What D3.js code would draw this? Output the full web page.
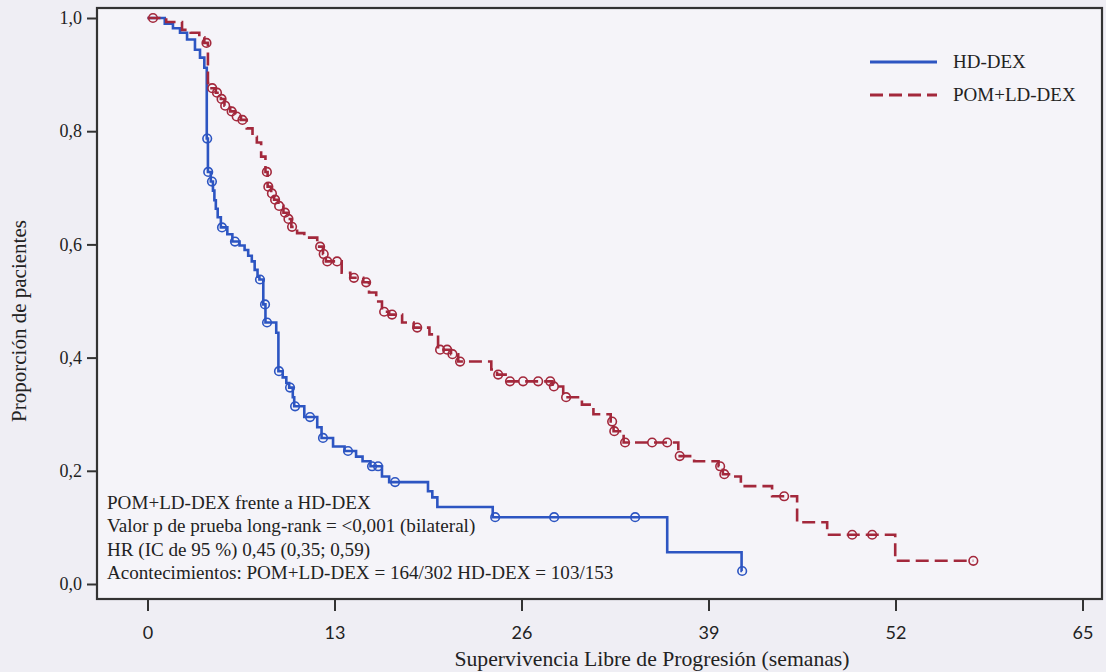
<!DOCTYPE html>
<html><head><meta charset="utf-8">
<script src="https://cdn.jsdelivr.net/npm/d3@7"></script>
<style>
html,body{margin:0;padding:0;background:#efeef4;}
svg{display:block;}
</style></head>
<body>
<svg id="chart" width="1106" height="672"></svg>
<script>
// ---------- DATA ----------
const seriesNames = ["HD-DEX", "POM+LD-DEX"];
const xTickValues = [0, 13, 26, 39, 52, 65];
const yTickValues = [0, 0.2, 0.4, 0.6, 0.8, 1.0];

// HD-DEX: step times (weeks) and survival after each step
const hdTimes = [0,1.2,1.77,2.26,2.75,3.3,3.65,3.95,4.12,4.2,4.4,4.55,4.65,4.75,4.88,5.1,5.55,5.9,6.4,6.75,7.0,7.25,7.45,7.65,7.78,8.05,8.2,8.95,9.1,9.4,9.65,9.85,10.1,10.2,10.9,11.8,12.1,12.9,13.7,14.5,14.95,15.5,16.3,16.8,19.5,19.8,20.15,24.0,36.13,41.3];
const hdSurv  = [1.0,0.99,0.982,0.974,0.962,0.944,0.93,0.912,0.787,0.728,0.711,0.695,0.678,0.663,0.648,0.63,0.618,0.605,0.598,0.59,0.58,0.57,0.555,0.543,0.538,0.494,0.462,0.444,0.376,0.365,0.355,0.347,0.33,0.314,0.295,0.277,0.258,0.243,0.235,0.225,0.217,0.208,0.19,0.18,0.164,0.153,0.136,0.118,0.056,0.023];
const hdEnd = 41.34;
const hdCensor = [4.15,4.22,4.48,5.18,6.08,7.82,8.17,8.31,9.14,9.91,10.26,11.3,12.2,13.94,15.61,16.03,17.21,24.17,28.27,33.9,41.34];

// POM+LD-DEX
const pomTimes = [0,1.3,2.4,3.0,3.6,3.95,4.2,4.45,4.75,5.1,5.35,5.75,6.1,6.5,6.9,7.3,7.6,7.9,8.2,8.35,8.6,8.8,9.1,9.45,9.75,10.0,10.4,10.9,11.8,12.2,12.4,13.5,14.1,15.0,15.4,15.9,16.3,16.8,17.7,18.5,19.6,20.2,21.1,21.6,23.9,24.3,25.0,28.15,28.9,30.2,31.0,32.2,32.4,33.1,36.9,38.0,39.7,40.0,40.6,41.25,43.42,45.16,47.25,51.98];
const pomSurv  = [1.0,0.993,0.979,0.974,0.966,0.956,0.885,0.876,0.868,0.857,0.845,0.835,0.826,0.82,0.805,0.79,0.78,0.755,0.728,0.702,0.69,0.679,0.668,0.656,0.645,0.631,0.62,0.612,0.596,0.583,0.57,0.55,0.541,0.533,0.515,0.499,0.481,0.476,0.462,0.453,0.441,0.414,0.406,0.393,0.379,0.37,0.358,0.349,0.33,0.317,0.30,0.287,0.27,0.25,0.226,0.217,0.208,0.194,0.19,0.173,0.155,0.109,0.087,0.041];
const pomEnd = 57.41;
const pomCensor = [0.38,4.1,4.5,4.83,5.15,5.4,5.85,6.2,6.6,8.3,8.4,8.65,8.87,9.15,9.56,9.8,10.05,12.0,12.25,12.5,13.18,14.35,15.2,16.45,17.0,18.75,20.34,20.83,21.2,21.73,24.38,25.2,26.11,27.16,28.0,28.25,29.1,32.3,32.45,33.2,35.08,36.13,37.0,39.81,40.1,44.26,48.99,50.38,57.41];

const annotationLines = [
  "POM+LD-DEX frente a HD-DEX",
  "Valor p de prueba long-rank = <0,001 (bilateral)",
  "HR (IC de 95 %) 0,45 (0,35; 0,59)",
  "Acontecimientos: POM+LD-DEX = 164/302 HD-DEX = 103/153"
];
const xTitle = "Supervivencia Libre de Progresión (semanas)";
const yTitle = "Proporción de pacientes";

// ---------- LAYOUT ----------
const frame = {left: 97, right: 1102, top: 8, bottom: 599};
const colors = {"HD-DEX": "#2d55c2", "POM+LD-DEX": "#a3283c"};
const serif = "'Liberation Serif','Times New Roman',serif";

const svg = d3.select("#chart");
const x = d3.scaleLinear().domain([0, 65]).range([147.5, 1082.5]);
const y = d3.scaleLinear().domain([0, 1]).range([584, 18]);

// plot background
svg.append("rect").attr("x", frame.left).attr("y", frame.top)
  .attr("width", frame.right - frame.left).attr("height", frame.bottom - frame.top)
  .attr("fill", "#f5f4f9");

// axes
const fmt = d => d3.format(".1f")(d).replace(".", ",");
const yAxis = svg.append("g").attr("transform", `translate(${frame.left},0)`)
  .call(d3.axisLeft(y).tickValues(yTickValues).tickFormat(fmt).tickSize(10).tickPadding(5));
yAxis.select(".domain").remove();
yAxis.selectAll(".tick line").attr("stroke", "#333").attr("stroke-width", 2);
yAxis.selectAll(".tick text").attr("font-family", serif).attr("font-size", 18).attr("fill", "#222");

const xAxis = svg.append("g").attr("transform", `translate(0,${frame.bottom})`)
  .call(d3.axisBottom(x).tickValues(xTickValues).tickFormat(d3.format("d")).tickSize(12).tickPadding(15));
xAxis.select(".domain").remove();
xAxis.selectAll(".tick line").attr("stroke", "#333").attr("stroke-width", 2);
xAxis.selectAll(".tick text").attr("font-family", "Lato, 'Open Sans', sans-serif").attr("font-size", 18).attr("fill", "#222");

// frame
svg.append("rect").attr("x", frame.left).attr("y", frame.top)
  .attr("width", frame.right - frame.left).attr("height", frame.bottom - frame.top)
  .attr("fill", "none").attr("stroke", "#333").attr("stroke-width", 2.2);

// titles
svg.append("text").attr("x", 652).attr("y", 666)
  .attr("text-anchor", "middle").attr("font-family", serif).attr("font-size", 21.7).attr("fill", "#222")
  .text(xTitle);
svg.append("text").attr("transform", `translate(26,${(y(0) + y(1)) / 2 + 20}) rotate(-90)`)
  .attr("text-anchor", "middle").attr("font-family", serif).attr("font-size", 21).attr("fill", "#222")
  .text(yTitle);

// curves
function stepPoints(times, surv, end) {
  const pts = times.map((t, i) => [t, surv[i]]);
  pts.push([end, surv[surv.length - 1]]);
  return pts;
}
function survAt(times, surv, t) {
  let s = surv[0];
  for (let i = 0; i < times.length; i++) { if (times[i] <= t) s = surv[i]; }
  return s;
}
const line = d3.line().x(d => x(d[0])).y(d => y(d[1])).curve(d3.curveStepAfter);

const series = [
  {name: "HD-DEX", times: hdTimes, surv: hdSurv, end: hdEnd, censor: hdCensor, dash: null},
  {name: "POM+LD-DEX", times: pomTimes, surv: pomSurv, end: pomEnd, censor: pomCensor, dash: "13,6"}
];

series.forEach(s => {
  svg.append("path").datum(stepPoints(s.times, s.surv, s.end))
    .attr("d", line).attr("fill", "none").attr("stroke", colors[s.name])
    .attr("stroke-width", 2.6).attr("stroke-dasharray", s.dash);
  svg.append("g").selectAll("circle").data(s.censor).join("circle")
    .attr("cx", t => x(t)).attr("cy", t => y(survAt(s.times, s.surv, t)))
    .attr("r", 4.3).attr("fill", "none").attr("stroke", colors[s.name]).attr("stroke-width", 1.6);
});

// legend
const legend = svg.append("g");
series.forEach((s, i) => {
  const ly = 62 + i * 33;
  legend.append("line").attr("x1", 870).attr("x2", 937).attr("y1", ly).attr("y2", ly)
    .attr("stroke", colors[s.name]).attr("stroke-width", 3).attr("stroke-dasharray", s.dash);
  legend.append("text").attr("x", 953).attr("y", ly + 6).attr("font-family", serif)
    .attr("font-size", 19).attr("fill", "#222").text(s.name);
});

// annotation
svg.append("g").selectAll("text").data(annotationLines).join("text")
  .attr("x", 107).attr("y", (d, i) => 509 + i * 23.3)
  .attr("font-family", serif).attr("font-size", 19.1).attr("fill", "#222")
  .text(d => d);
</script>
</body></html>
